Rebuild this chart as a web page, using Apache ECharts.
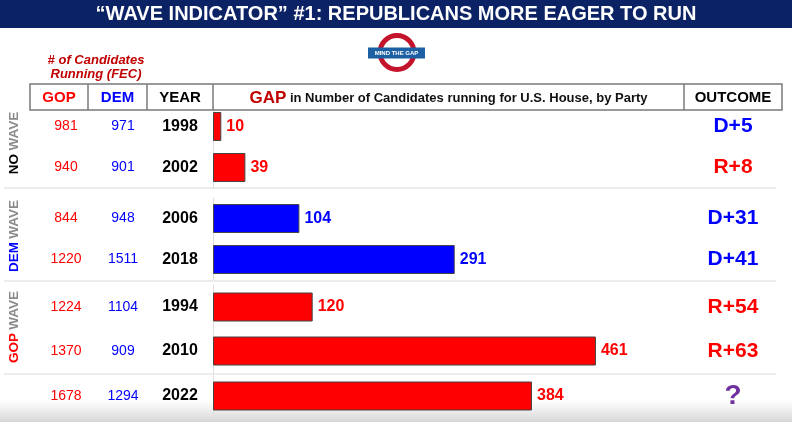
<!DOCTYPE html>
<html><head><meta charset="utf-8">
<script src="https://cdn.jsdelivr.net/npm/echarts@6/dist/echarts.min.js"></script>
<style>html,body{margin:0;padding:0;background:#fff}#c{width:792px;height:422px}</style>
</head><body><div id="c"></div>
<script>
// ---- data ----
const years = ['1998','2002','2006','2018','1994','2010','2022'];
const gopCandidates = [981, 940, 844, 1220, 1224, 1370, 1678];
const demCandidates = [971, 901, 948, 1511, 1104, 909, 1294];
const gapValues = [10, 39, 104, 291, 120, 461, 384];
const outcomes = ['D+5','R+8','D+31','D+41','R+54','R+63','?'];
const groupSizes = [2, 2, 2, 1];
const groupTags = ['NO', 'DEM', 'GOP', ''];
const headerLabels = ['GOP', 'DEM', 'YEAR', 'OUTCOME'];
const titleText = '\u201CWAVE INDICATOR\u201D #1: REPUBLICANS MORE EAGER TO RUN';

// ---- style ----
const RED = '#ff0000', BLUE = '#0000ff', NAVY = '#0b2264', DARKRED = '#c00000', PURPLE = '#7030a0';
const FONT = '"Liberation Sans", Arial, sans-serif';
const layout = [{top:106,height:82},{top:198,height:82},{top:285,height:88},{top:374,height:44}];
const GRID_LEFT = 213, GRID_W = 471, X_MAX = 567;
const tagColors = ['#000', BLUE, RED, '#000'];

const grids = [], xAxes = [], yAxes = [], series = [];
let start = 0;
groupSizes.forEach((n, g) => {
  const idx = [];
  for (let k = 0; k < n; k++) idx.push(start + k);
  start += n;
  const cats = idx.map(i => years[i]);
  grids.push({left: GRID_LEFT, width: GRID_W, top: layout[g].top, height: layout[g].height});
  xAxes.push({type: 'value', gridIndex: g, min: 0, max: X_MAX, show: false});
  const base = {type: 'category', gridIndex: g, inverse: true, data: cats,
    axisTick: {show: false}, splitLine: {show: false}};
  const yearAxis = yAxes.length;
  yAxes.push(Object.assign({}, base, {position: 'left',
    axisLine: {show: true, lineStyle: {color: '#dedede', width: 1}},
    axisLabel: {align: 'center', margin: 33, color: '#000', fontFamily: FONT, fontWeight: 'bold', fontSize: 16}}));
  yAxes.push(Object.assign({}, base, {position: 'left', axisLine: {show: false},
    axisLabel: {align: 'center', margin: 90, color: BLUE, fontFamily: FONT, fontSize: 14,
      formatter: (v, k) => String(demCandidates[idx[k]])}}));
  yAxes.push(Object.assign({}, base, {position: 'left', axisLine: {show: false},
    axisLabel: {align: 'center', margin: 147, color: RED, fontFamily: FONT, fontSize: 14,
      formatter: (v, k) => String(gopCandidates[idx[k]])}}));
  yAxes.push(Object.assign({}, base, {position: 'right', axisLine: {show: false},
    axisLabel: {align: 'center', margin: 49, fontFamily: FONT, fontWeight: 'bold', fontSize: 21,
      formatter: (v, k) => {
        const o = outcomes[idx[k]];
        const key = o[0] === 'D' ? 'd' : (o[0] === 'R' ? 'r' : 'q');
        return '{' + key + '|' + o + '}';
      },
      rich: {
        d: {color: BLUE, fontFamily: FONT, fontWeight: 'bold', fontSize: 21},
        r: {color: RED, fontFamily: FONT, fontWeight: 'bold', fontSize: 21},
        q: {color: PURPLE, fontFamily: FONT, fontWeight: 'bold', fontSize: 28}
      }}}));
  series.push({
    type: 'bar', xAxisIndex: g, yAxisIndex: yearAxis, barWidth: 29,
    itemStyle: {borderColor: '#454545', borderWidth: 1},
    label: {show: true, position: 'right', distance: 5, fontFamily: FONT, fontWeight: 'bold', fontSize: 16},
    data: idx.map(i => {
      const c = gopCandidates[i] > demCandidates[i] ? RED : BLUE;
      return {value: gapValues[i], itemStyle: {color: c}, label: {color: c}};
    })
  });
});

// ---- decorations ----
function txt(x, y, text, font, fill, extra) {
  return Object.assign({type: 'text', x: x, y: y, z: 10, style: {text: text, font: font, fill: fill,
    align: 'center', verticalAlign: 'middle', textAlign: 'center', textVerticalAlign: 'middle'}}, extra || {});
}
const graphic = [];
graphic.push({type: 'rect', shape: {x: 0, y: 0, width: 792, height: 28}, style: {fill: NAVY}, z: 1});
graphic.push(txt(396, 14.5, titleText, 'bold 20px ' + FONT, '#fff'));
graphic.push(txt(96, 60, '# of Candidates', 'italic bold 13px ' + FONT, DARKRED));
graphic.push(txt(96, 74, 'Running (FEC)', 'italic bold 13px ' + FONT, DARKRED));
// logo
graphic.push({type: 'ring', shape: {cx: 397, cy: 52.5, r: 19.5, r0: 14.5}, style: {fill: '#c3142c'}, z: 5});
graphic.push({type: 'rect', shape: {x: 368, y: 47.5, width: 57, height: 11}, style: {fill: '#1d5fa3'}, z: 6});
graphic.push(txt(396.5, 53.2, 'MIND THE GAP', 'bold 6px ' + FONT, '#fff'));
// header table
graphic.push({type: 'rect', shape: {x: 30, y: 84, width: 752, height: 26}, style: {fill: 'none', stroke: '#7a7a7a', lineWidth: 1.5}, z: 5});
[88, 147, 213, 684].forEach(x => graphic.push({type: 'line', shape: {x1: x, y1: 84, x2: x, y2: 110}, style: {stroke: '#7a7a7a', lineWidth: 1.5}, z: 5}));
graphic.push(txt(59, 97.5, headerLabels[0], 'bold 15px ' + FONT, RED));
graphic.push(txt(117.5, 97.5, headerLabels[1], 'bold 15px ' + FONT, BLUE));
graphic.push(txt(180, 97.5, headerLabels[2], 'bold 15px ' + FONT, '#000'));
graphic.push(txt(733, 97.5, headerLabels[3], 'bold 15px ' + FONT, '#000'));
graphic.push({type: 'text', x: 448.5, y: 98, z: 10, style: {
  text: '{g|GAP}{t| in Number of Candidates running for U.S. House, by Party}',
  align: 'center', verticalAlign: 'middle', textAlign: 'center', textVerticalAlign: 'middle',
  rich: {
    g: {fill: DARKRED, color: DARKRED, fontFamily: FONT, fontWeight: 'bold', fontSize: 17},
    t: {fill: '#111', color: '#111', fontFamily: FONT, fontWeight: 'bold', fontSize: 13}
  }}});
// separators
[188, 281, 374].forEach(y => graphic.push({type: 'line', shape: {x1: 4, y1: y, x2: 776, y2: y}, style: {stroke: '#e6e6e6', lineWidth: 1.5}, z: 1}));
// vertical group tags
const tagY = [143, 236, 327];
groupTags.forEach((t, g) => {
  if (!t) return;
  graphic.push({type: 'text', x: 14, y: tagY[g], rotation: Math.PI / 2, z: 10, style: {
    text: '{a|' + t + '} {b|WAVE}',
    align: 'center', verticalAlign: 'middle', textAlign: 'center', textVerticalAlign: 'middle',
    rich: {
      a: {fill: tagColors[g], color: tagColors[g], fontFamily: FONT, fontWeight: 'bold', fontSize: 13.5},
      b: {fill: '#8a8a8a', color: '#8a8a8a', fontFamily: FONT, fontWeight: 'bold', fontSize: 13.5}
    }}});
});
// bottom shadow
graphic.push({type: 'rect', shape: {x: 0, y: 400, width: 792, height: 22}, z: 0, silent: true,
  style: {fill: new echarts.graphic.LinearGradient(0, 0, 0, 1, [
    {offset: 0, color: 'rgba(210,210,210,0)'}, {offset: 1, color: 'rgba(200,200,200,0.75)'}])}});

const chart = echarts.init(document.getElementById('c'), null, {renderer: 'canvas'});
chart.setOption({
  backgroundColor: '#fff',
  animation: false,
  grid: grids, xAxis: xAxes, yAxis: yAxes, series: series,
  graphic: {elements: graphic}
});
</script></body></html>
